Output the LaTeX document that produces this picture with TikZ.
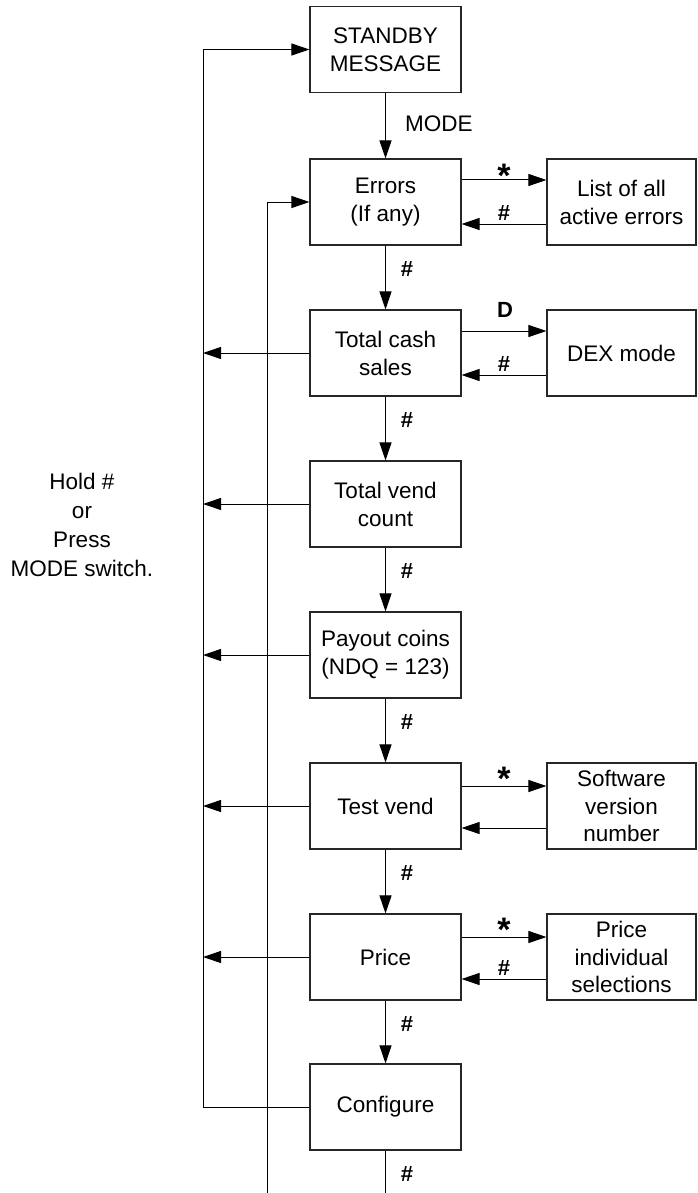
\documentclass[tikz,border=0pt]{standalone}
\usepackage{fontspec}
\setmainfont{Liberation Sans}
\usetikzlibrary{arrows.meta,calc}
\begin{document}
\begin{tikzpicture}[x=1pt,y=-1pt,
  box/.style={draw=black!85, line width=1.1pt, minimum width=151pt, minimum height=86pt, inner sep=0pt, align=center, font=\fontsize{22.5}{28}\selectfont},
  sidebox/.style={box, minimum width=149pt},
  threeline/.style={font=\fontsize{22.5}{27.5}\selectfont},
  conn/.style={line width=1pt, -{Triangle[length=18pt,width=12pt]}},
  plain/.style={line width=1pt},
  key/.style={font=\fontsize{22}{26}\selectfont\bfseries, inner sep=0pt, anchor=base},
  star/.style={font=\fontsize{34}{34}\selectfont\bfseries, inner sep=0pt, anchor=base},
  txt/.style={font=\fontsize{22.5}{29}\selectfont, align=center, inner sep=0pt}]
\useasboundingbox (0,0) rectangle (697,1193);

% main column
\node[box] (standby) at (385.5,49.5) {STANDBY\\MESSAGE};
\node[box] (errors) at (385.5,202) {Errors\\(If any)};
\node[box] (cash) at (385.5,353) {Total cash\\sales};
\node[box] (vend) at (385.5,504) {Total vend\\count};
\node[box] (payout) at (385.5,655) {Payout coins\\(NDQ = 123)};
\node[box] (test) at (385.5,806) {Test vend};
\node[box] (price) at (385.5,957) {Price};
\node[box] (config) at (385.5,1107) {Configure};

% side boxes
\node[sidebox] (list) at (621.5,202) {List of all\\active errors};
\node[sidebox] (dex) at (621.5,353) {DEX mode};
\node[sidebox, threeline] (soft) at (621.5,806) {Software\\version\\number};
\node[sidebox, threeline] (pis) at (621.5,957) {Price\\individual\\selections};

% vertical flow
\draw[conn] (standby) -- (errors);
\draw[conn] (errors) -- (cash);
\draw[conn] (cash) -- (vend);
\draw[conn] (vend) -- (payout);
\draw[conn] (payout) -- (test);
\draw[conn] (test) -- (price);
\draw[conn] (price) -- (config);
\coordinate (cb) at (385.5,1193);
\draw[plain] (config.south) -- (cb);

% outer return line
\coordinate (ox) at (203,0);
\draw[conn] (config.west) -- (ox |- config.west) -- (ox |- standby.west) -- (standby.west);
\foreach \n in {cash,vend,payout,test,price}
  \draw[conn] (\n.west) -- (ox |- \n.west);

% inner return line
\coordinate (ix) at (267,1193);
\draw[conn] (ix) -- (ix |- errors.west) -- (errors.west);

% side connectors
\draw[conn] ([yshift=22pt]errors.east) -- ([yshift=22pt]list.west);
\draw[conn] ([yshift=-22pt]list.west) -- ([yshift=-22pt]errors.east);
\draw[conn] ([yshift=22pt]cash.east) -- ([yshift=22pt]dex.west);
\draw[conn] ([yshift=-22pt]dex.west) -- ([yshift=-22pt]cash.east);
\draw[conn] ([yshift=20pt]test.east) -- ([yshift=20pt]soft.west);
\draw[conn] ([yshift=-22pt]soft.west) -- ([yshift=-22pt]test.east);
\draw[conn] ([yshift=20pt]price.east) -- ([yshift=20pt]pis.west);
\draw[conn] ([yshift=-22pt]pis.west) -- ([yshift=-22pt]price.east);

% labels
\node[txt, anchor=base west] (modelbl) at (405,132) {MODE};
\node[key] (k1) at ($(errors.south)+(21.5,31)$) {\#};
\node[key] (k2) at ($(cash.south)+(21.5,31)$) {\#};
\node[key] (k3) at ($(vend.south)+(21.5,31)$) {\#};
\node[key] (k4) at ($(payout.south)+(21.5,31)$) {\#};
\node[key] (k5) at ($(test.south)+(21.5,31)$) {\#};
\node[key] (k6) at ($(price.south)+(21.5,31)$) {\#};
\node[key] (k7) at ($(config.south)+(21.5,31)$) {\#};

\node[star] (s1) at (504,188) {*};
\node[key] (r1) at (504,220) {\#};
\node[key] (d1) at (505,317) {D};
\node[key] (r2) at (504,371) {\#};
\node[star] (s2) at (504,790) {*};
\node[star] (s3) at (504,941) {*};
\node[key] (r3) at (504,975) {\#};

\node[txt] (hold) at (82,524.5) {Hold \#\\or\\Press\\MODE switch.};
\end{tikzpicture}
\end{document}
